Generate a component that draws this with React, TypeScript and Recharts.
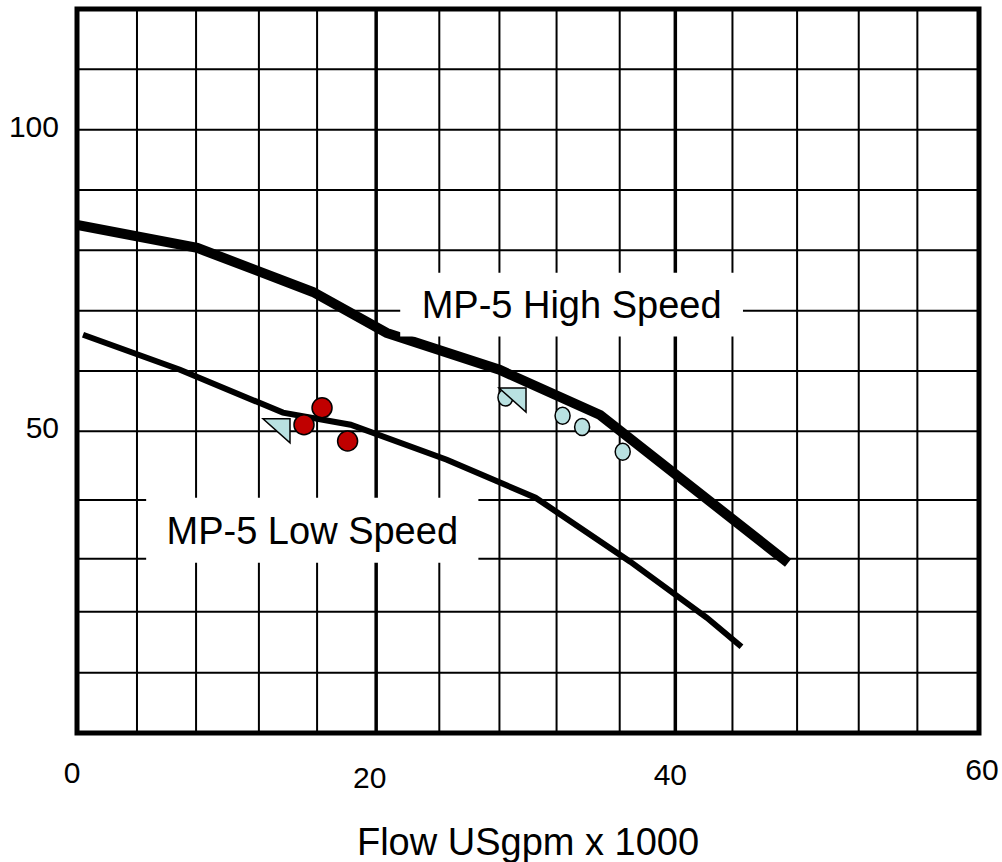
import React from 'react';
import {
  ComposedChart,
  Line,
  Scatter,
  XAxis,
  YAxis,
  ReferenceLine,
  ReferenceArea,
} from 'recharts';

// ---- data ----
const highFlow = [0, 8.0, 15.7, 20.6, 28.1, 34.8, 47.3];
const highHead = [84.2, 80.4, 73.1, 66.3, 60.2, 52.7, 28.2];

const lowFlow = [0.4, 6.85, 13.7, 18.2, 24.6, 30.5, 36.8, 41.9, 44.2];
const lowHead = [66.0, 60.2, 53.1, 51.1, 45.3, 39.0, 28.4, 19.1, 14.3];

const redFlow = [16.3, 15.1, 18.0];
const redHead = [53.9, 51.1, 48.4];

const triFlow = [13.27, 28.97];
const triHead = [50.1, 55.2];

const blueFlow = [28.5, 32.3, 33.6, 36.3];
const blueHead = [55.6, 52.6, 50.7, 46.6];

const xTicks = [0, 20, 40, 60];
const yTicks = [50, 100];
const xGrid = [3.99, 7.92, 12.1, 15.97, 24.1, 28.1, 31.9, 36.1, 43.6, 47.9, 52.0, 55.9];
const xGridMajor = [19.9, 39.8];
const yGrid = [110, 100, 90, 80, 70, 60, 50, 38.6, 28.9, 20.1, 10];

const highLabel = 'MP-5 High Speed';
const lowLabel = 'MP-5 Low Speed';
const xTitle = 'Flow USgpm x 1000';

// annotation boxes (data units)
const highBox = { x1: 21.5, x2: 44.3, y1: 65.7, y2: 76.3 };
const lowBox = { x1: 4.6, x2: 26.7, y1: 28.2, y2: 39.0 };

const zip = (xs: number[], ys: number[]) => xs.map((x, i) => ({ flow: x, head: ys[i] }));
const highData = zip(highFlow, highHead);
const lowData = zip(lowFlow, lowHead);
const redData = zip(redFlow, redHead);
const triData = zip(triFlow, triHead);
const blueData = zip(blueFlow, blueHead);

// small per-label nudges to mimic the original placement
const xTickNudge: Record<number, { dx: number; dy: number }> = {
  0: { dx: -5, dy: 50 },
  20: { dx: -8, dy: 55 },
  40: { dx: -8, dy: 52 },
  60: { dx: 3, dy: 47 },
};

const FONT = '"Liberation Sans", Arial, sans-serif';
const RED = '#C00000';
const BLUE = '#B9E1E1';

const XTick = (props: any) => {
  const { x, y, payload } = props;
  const n = xTickNudge[payload.value] || { dx: 0, dy: 50 };
  return (
    <text x={x + n.dx} y={y + n.dy} textAnchor="middle" fontSize={30} fill="#000" fontFamily={FONT}>
      {payload.value}
    </text>
  );
};

const YTick = (props: any) => {
  const { x, y, payload } = props;
  return (
    <text x={x - 18} y={y + 7} textAnchor="end" fontSize={30} fill="#000" fontFamily={FONT}>
      {payload.value}
    </text>
  );
};

const RedDot = (p: any) => (
  <circle cx={p.cx} cy={p.cy} r={10} fill={RED} stroke="#000" strokeWidth={1.5} />
);
const BlueDot = (p: any) => (
  <ellipse cx={p.cx} cy={p.cy} rx={7.5} ry={8.5} fill={BLUE} stroke="#000" strokeWidth={1.5} />
);
const Tri = (p: any) => (
  <polygon
    points={`${p.cx - 13.5},${p.cy - 12} ${p.cx + 13.5},${p.cy - 12} ${p.cx + 13.5},${p.cy + 12}`}
    fill={BLUE}
    stroke="#000"
    strokeWidth={1.5}
  />
);

export default function App() {
  return (
    <div style={{ position: 'absolute', left: 0, top: 0, fontFamily: FONT, background: '#fff' }}>
      <ComposedChart
        width={1002}
        height={862}
        margin={{ top: 9, right: 23, bottom: 69, left: 17 }}
      >
        <XAxis
          type="number"
          dataKey="flow"
          domain={[0, 60]}
          ticks={xTicks}
          height={60}
          axisLine={false}
          tickLine={false}
          tickSize={0}
          tickMargin={0}
          tick={<XTick />}
          allowDataOverflow
          label={{
            content: (lp: any) => {
              const vb = lp.viewBox;
              return (
                <text
                  x={vb.x + vb.width / 2}
                  y={vb.y + 122}
                  textAnchor="middle"
                  fontSize={38}
                  fill="#000"
                  fontFamily={FONT}
                >
                  {xTitle}
                </text>
              );
            },
          }}
        />
        <YAxis
          type="number"
          dataKey="head"
          domain={[0, 120]}
          ticks={yTicks}
          width={60}
          axisLine={false}
          tickLine={false}
          tickSize={0}
          tickMargin={0}
          tick={<YTick />}
          allowDataOverflow
        />
        {xGrid.map((v) => (
          <ReferenceLine key={'gx' + v} x={v} stroke="#000" strokeWidth={2} zIndex={-100} />
        ))}
        {xGridMajor.map((v) => (
          <ReferenceLine key={'gX' + v} x={v} stroke="#000" strokeWidth={3.5} zIndex={-100} />
        ))}
        {yGrid.map((v) => (
          <ReferenceLine key={'gy' + v} y={v} stroke="#000" strokeWidth={2} zIndex={-100} />
        ))}
        <ReferenceArea
          x1={0}
          x2={60}
          y1={0}
          y2={120}
          fill="none"
          fillOpacity={0}
          stroke="#000"
          strokeWidth={5}
          zIndex={-90}
        />
        <Line
          data={highData}
          dataKey="head"
          stroke="#000"
          strokeWidth={10}
          dot={false}
          activeDot={false}
          isAnimationActive={false}
          type="linear"
          zIndex={400}
        />
        <Line
          data={lowData}
          dataKey="head"
          stroke="#000"
          strokeWidth={6}
          dot={false}
          activeDot={false}
          isAnimationActive={false}
          type="linear"
          zIndex={400}
        />
        <ReferenceArea
          {...highBox}
          fill="#fff"
          fillOpacity={1}
          stroke="none"
          zIndex={450}
          label={{ value: highLabel, position: 'center', fontSize: 38, fill: '#000', fontFamily: FONT }}
        />
        <ReferenceArea
          {...lowBox}
          fill="#fff"
          fillOpacity={1}
          stroke="none"
          zIndex={450}
          label={{ value: lowLabel, position: 'center', fontSize: 38, fill: '#000', fontFamily: FONT }}
        />
        <Scatter data={blueData} dataKey="head" shape={BlueDot} isAnimationActive={false} zIndex={600} />
        <Scatter data={triData} dataKey="head" shape={Tri} isAnimationActive={false} zIndex={600} />
        <Scatter data={redData} dataKey="head" shape={RedDot} isAnimationActive={false} zIndex={600} />
      </ComposedChart>
    </div>
  );
}
